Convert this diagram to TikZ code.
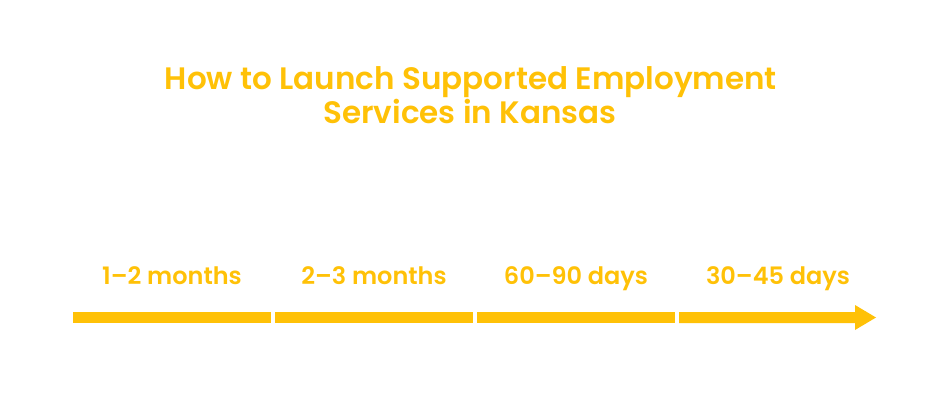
\documentclass[tikz,border=0pt]{standalone}
\usepackage{fontspec}
\setmainfont{Poppins}[BoldFont={* SemiBold}]
\definecolor{amber}{HTML}{FFC107}
\begin{document}
\begin{tikzpicture}[x=1pt,y=-1pt,
  title/.style={text=amber,font=\bfseries\fontsize{31}{38}\selectfont,inner sep=0pt,anchor=base},
  period/.style={text=amber,font=\bfseries\fontsize{24}{28}\selectfont,inner sep=0pt,anchor=base},
  seg/.style={fill=amber,draw=none}]
\useasboundingbox (0,0) rectangle (949,418);
\node[title] (t1) at (471,89) {How to Launch Supported Employment};
\node[title] (t2) at (470,123) {Services in Kansas};
\node[period] (p1) at (172,284) {1–2 months};
\node[period] (p2) at (374,284) {2–3 months};
\node[period] (p3) at (576,284) {60–90 days};
\node[period] (p4) at (778,284) {30–45 days};
\fill[seg] (73,312) rectangle (271,323);
\fill[seg] (275,312) rectangle (473,323);
\fill[seg] (477,312) rectangle (675,323);
\fill[seg] (679,312) -- (855,312) -- (855,305) -- (876,317.5) -- (855,330) -- (855,323) -- (679,323) -- cycle;
\end{tikzpicture}
\end{document}
